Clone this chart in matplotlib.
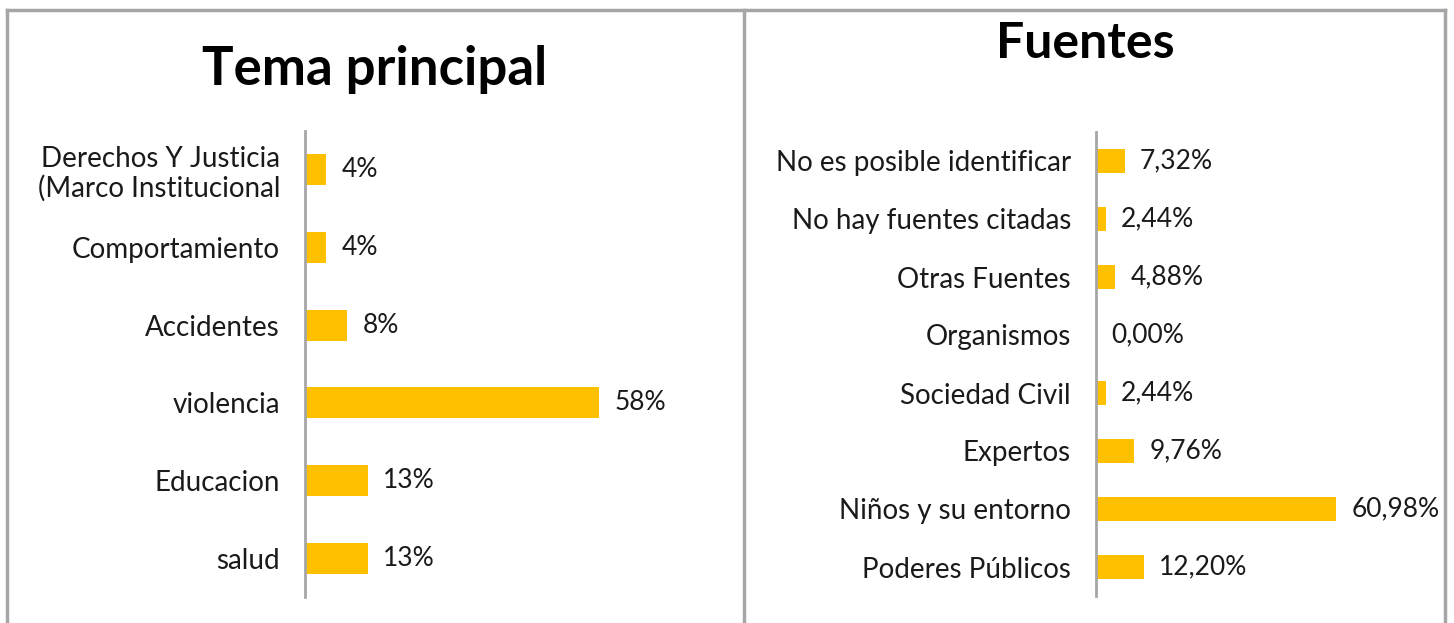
import matplotlib
matplotlib.use("Agg")
import matplotlib.pyplot as plt
from matplotlib.lines import Line2D
import numpy as np

plt.rcParams.update({"font.family": ["Lato", "DejaVu Sans"]})

W, H = 1454, 623
BAR_COLOR = "#FFC000"
GRAY = "#A6A6A6"

# Left panel: "Tema principal" (top to bottom)
tema_cats = ["Derechos Y Justicia\n(Marco Institucional", "Comportamiento",
             "Accidentes", "violencia", "Educacion", "salud"]
tema_vals = [4.17, 4.17, 8.33, 58.33, 12.5, 12.5]
tema_labels = ["4%", "4%", "8%", "58%", "13%", "13%"]

# Right panel: "Fuentes" (top to bottom)
fuentes_cats = ["No es posible identificar", "No hay fuentes citadas",
                "Otras Fuentes", "Organismos", "Sociedad Civil", "Expertos",
                "Niños y su entorno", "Poderes Públicos"]
fuentes_vals = [7.32, 2.44, 4.88, 0.00, 2.44, 9.76, 60.98, 12.20]
fuentes_labels = ["7,32%", "2,44%", "4,88%", "0,00%", "2,44%", "9,76%",
                  "60,98%", "12,20%"]


def px_rect(x0, y0, x1, y1):
    """pixel box (top-left origin) -> figure fraction [l, b, w, h]"""
    return [x0 / W, 1 - y1 / H, (x1 - x0) / W, (y1 - y0) / H]


def draw_panel(ax, cats, vals, labels, xmax, height, fontsize):
    y = np.arange(len(cats))
    bars = ax.barh(y, vals, height=height, color=BAR_COLOR)
    ax.bar_label(bars, labels=labels, padding=11, fontsize=fontsize - 1,
                 color="#1a1a1a")
    ax.set_yticks(y)
    ax.set_yticklabels(cats, fontsize=fontsize, color="#1a1a1a",
                       linespacing=1.15)
    ax.set_ylim(len(cats) - 0.5, -0.5)
    ax.set_xlim(0, xmax)
    ax.set_xticks([])
    ax.tick_params(axis="y", length=0, pad=18)
    for s in ["top", "right", "bottom"]:
        ax.spines[s].set_visible(False)
    ax.spines["left"].set_color(GRAY)
    ax.spines["left"].set_linewidth(2)


fig = plt.figure(figsize=(W / 100, H / 100), dpi=100)

ax1 = fig.add_axes(px_rect(305, 131, 725, 597))
draw_panel(ax1, tema_cats, tema_vals, tema_labels, 83.3, 0.40, 20)

ax2 = fig.add_axes(px_rect(1096, 132, 1436, 596))
draw_panel(ax2, fuentes_cats, fuentes_vals, fuentes_labels, 86.3, 0.41, 20)

fig.text(375 / W, 1 - 70 / H, "Tema principal", ha="center", va="center",
         fontsize=38, fontweight="bold")
fig.text(1085 / W, 1 - 44 / H, "Fuentes", ha="center", va="center",
         fontsize=36, fontweight="bold")

# panel borders
for xs, ys in [([7, 1445], [10, 10]), ([7, 7], [10, H]),
               ([744, 744], [10, H]), ([1445, 1445], [10, H])]:
    fig.add_artist(Line2D([x / W for x in xs], [1 - v / H for v in ys],
                          transform=fig.transFigure, color=GRAY, lw=2.5))

fig.savefig("out.png", dpi=100, facecolor="white")
